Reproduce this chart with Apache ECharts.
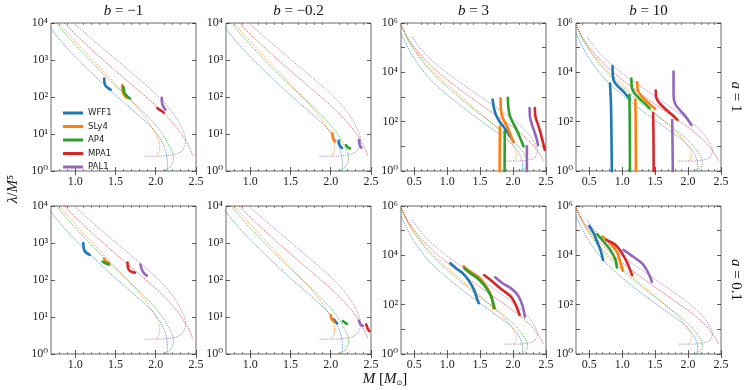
<!DOCTYPE html>
<html><head><meta charset="utf-8">
<script src="https://cdn.jsdelivr.net/npm/echarts@6/dist/echarts.min.js"></script>
<style>html,body{margin:0;padding:0;background:#fff}#c{width:747px;height:390px}</style>
</head><body><div id="c"></div><script>
// ---------------- DATA ----------------
const EOS_NAMES = ['WFF1', 'SLy4', 'AP4', 'MPA1', 'PAL1'];
const EOS_COLORS = ['#1f77b4', '#ff7f0e', '#2ca02c', '#d62728', '#9467bd'];

// GR reference curves (dotted): mass [M_sun] and log10(lambda/M^5)
const wff1Mass   = [0.30,0.40,0.50,0.60,0.70,0.80,0.90,1.00,1.20,1.40,1.60,1.80,1.95,2.05,2.11,2.14,2.145,2.13];
const wff1LogLam = [5.58,5.02,4.57,4.18,3.85,3.57,3.32,3.09,2.66,2.25,1.86,1.48,1.17,0.90,0.62,0.37,0.15,-0.05];
const sly4Mass   = [0.30,0.40,0.50,0.60,0.70,0.80,0.90,1.00,1.20,1.40,1.60,1.75,1.88,1.97,2.03,2.05,2.04,2.01];
const sly4LogLam = [5.93,5.37,4.95,4.60,4.28,4.00,3.75,3.51,3.04,2.58,2.12,1.76,1.42,1.12,0.87,0.67,0.52,0.40];
const ap4Mass    = [0.30,0.40,0.50,0.60,0.70,0.80,0.90,1.00,1.20,1.40,1.60,1.80,1.95,2.05,2.13,2.19,2.22,2.21,2.16,2.06,1.98];
const ap4LogLam  = [5.92,5.33,4.90,4.53,4.20,3.91,3.65,3.41,2.95,2.51,2.10,1.69,1.36,1.10,0.84,0.60,0.40,0.22,0.07,-0.03,-0.07];
const mpa1Mass   = [0.30,0.40,0.50,0.60,0.70,0.80,0.90,1.00,1.20,1.40,1.60,1.80,2.00,2.15,2.28,2.37,2.43,2.46];
const mpa1LogLam = [5.93,5.42,5.03,4.70,4.42,4.16,3.92,3.70,3.29,2.90,2.52,2.15,1.77,1.45,1.12,0.82,0.58,0.40];
const pal1Mass   = [0.47,0.55,0.65,0.75,0.85,1.00,1.20,1.40,1.60,1.80,2.00,2.15,2.27,2.34,2.37,2.36,2.32,2.22,2.05,1.85];
const pal1LogLam = [5.44,5.13,4.80,4.53,4.29,3.97,3.58,3.21,2.84,2.47,2.08,1.74,1.38,1.08,0.85,0.68,0.53,0.44,0.40,0.40];

// Thick (scalarized) branches per panel, ordered WFF1, SLy4, AP4, MPA1, PAL1: lists of [M, log10 lambda] polylines
const segA1Bm1 = [
  [[[1.36,2.5],[1.365,2.38],[1.38,2.3],[1.41,2.24],[1.44,2.2]]],
  [[[1.585,2.32],[1.59,2.15],[1.61,2.05],[1.64,1.98]]],
  [[[1.60,2.27],[1.61,2.12],[1.64,2.03],[1.68,1.96]]],
  [[[2.02,1.7],[2.06,1.64],[2.1,1.58]]],
  [[[2.075,1.98],[2.08,1.82],[2.1,1.72],[2.12,1.66]]]
];
const segA1Bm02 = [
  [[[2.10,0.82],[2.11,0.7],[2.14,0.62]]],
  [[[2.02,1.02],[2.03,0.88],[2.05,0.8]]],
  [[[2.19,0.7],[2.21,0.64],[2.24,0.61]]],
  [],
  [[[2.35,0.84],[2.36,0.7],[2.38,0.63]]]
];
const segA1B3 = [
  [[[1.69,2.9],[1.71,2.55],[1.74,2.28],[1.79,2.03],[1.86,1.78],[1.93,1.52],[1.98,1.3],[2.01,1.17]]],
  [[[1.81,2.95],[1.815,2.55],[1.83,2.25],[1.87,2.0],[1.92,1.75],[1.96,1.48],[1.99,1.28],[2.01,1.18]], [[1.80,1.8],[1.795,-0.5]]],
  [[[1.92,2.97],[1.93,2.55],[1.95,2.25],[1.99,2.0],[2.04,1.75],[2.09,1.45],[2.13,1.2],[2.16,1.0]], [[1.875,1.62],[1.87,-0.5]]],
  [[[2.33,2.55],[2.34,2.2],[2.37,1.95],[2.41,1.62],[2.44,1.3],[2.47,1.0],[2.48,0.85]]],
  [[[2.25,2.55],[2.26,2.15],[2.29,1.85],[2.33,1.55],[2.36,1.28],[2.38,1.05]], [[2.21,1.0],[2.21,-0.5]]]
];
const segA1B10 = [
  [[[0.855,4.25],[0.86,3.85],[0.88,3.62],[0.94,3.42],[1.02,3.22],[1.12,2.9]], [[0.815,3.55],[0.83,2.8],[0.84,1.0],[0.845,-0.5]]],
  [[[1.23,3.6],[1.235,3.3],[1.28,3.08],[1.36,2.86],[1.44,2.66],[1.5,2.52]], [[1.2,2.9],[1.205,2.0],[1.21,-0.5]]],
  [[[1.14,3.75],[1.15,3.35],[1.19,3.15],[1.26,2.95],[1.34,2.75],[1.42,2.54]], [[1.11,3.08],[1.115,2.0],[1.12,-0.5]]],
  [[[1.51,3.26],[1.52,2.95],[1.57,2.74],[1.66,2.5],[1.75,2.3],[1.84,2.07]], [[1.47,2.35],[1.475,1.5],[1.48,-0.5]]],
  [[[1.78,4.03],[1.78,3.3],[1.785,2.9],[1.82,2.65],[1.9,2.4],[1.98,2.15],[2.05,1.86]], [[1.76,2.07],[1.765,1.0],[1.77,-0.5]]]
];
const segA01Bm1 = [
  [[[1.10,3.0],[1.11,2.82],[1.13,2.75],[1.18,2.68]]],
  [[[1.36,2.58],[1.38,2.5],[1.42,2.46]]],
  [[[1.34,2.5],[1.37,2.46],[1.42,2.42]]],
  [[[1.65,2.47],[1.66,2.3],[1.70,2.22],[1.74,2.2]]],
  [[[1.81,2.42],[1.83,2.27],[1.86,2.17],[1.89,2.12]]]
];
const segA01Bm02 = [
  [[[2.04,0.93],[2.06,0.87],[2.08,0.83]]],
  [[[2.0,1.05],[2.01,0.95],[2.04,0.88]]],
  [[[2.15,0.89],[2.18,0.84],[2.2,0.82]]],
  [[[2.44,0.8],[2.46,0.68],[2.48,0.62]]],
  [[[2.35,0.9],[2.37,0.8],[2.4,0.76]]]
];
const segA01B3 = [
  [[[1.05,3.68],[1.14,3.47],[1.24,3.27],[1.34,2.93],[1.41,2.59],[1.46,2.19],[1.48,2.06]]],
  [[[1.25,3.56],[1.34,3.36],[1.49,3.09],[1.59,2.75],[1.67,2.34],[1.70,1.87]]],
  [[[1.26,3.48],[1.34,3.3],[1.46,3.07],[1.58,2.73],[1.67,2.32],[1.72,1.85]]],
  [[[1.56,3.2],[1.69,2.93],[1.84,2.59],[1.97,2.32],[2.04,1.99],[2.10,1.58]]],
  [[[1.73,3.11],[1.84,2.87],[1.97,2.66],[2.07,2.39],[2.14,1.99],[2.18,1.51]]]
];
const segA01B10 = [
  [[[0.50,5.19],[0.57,4.89],[0.62,4.55],[0.67,4.22],[0.71,3.81]]],
  [[[0.70,4.76],[0.82,4.49],[0.92,4.15],[0.97,3.74],[1.01,3.38]]],
  [[[0.62,4.86],[0.72,4.55],[0.82,4.22],[0.90,3.81],[0.92,3.51]]],
  [[[0.76,4.62],[0.90,4.42],[1.0,4.08],[1.08,3.68],[1.15,3.2]]],
  [[[1.02,4.22],[1.17,3.94],[1.30,3.68],[1.40,3.27],[1.45,2.93]]]
];

const colTitles = ['b = −1', 'b = −0.2', 'b = 3', 'b = 10'];
const rowTitles = ['a = 1', 'a = 0.1'];
const xMinByCol = [0.7, 0.7, 0.3, 0.3];
const xMax = 2.5;
const yMaxByCol = [4, 4, 6, 6];
const xMajorByCol = [[1.0,1.5,2.0,2.5],[1.0,1.5,2.0,2.5],[0.5,1.0,1.5,2.0,2.5],[0.5,1.0,1.5,2.0,2.5]];

// ---------------- BUILD ----------------
const grCurves = [[wff1Mass, wff1LogLam],[sly4Mass, sly4LogLam],[ap4Mass, ap4LogLam],[mpa1Mass, mpa1LogLam],[pal1Mass, pal1LogLam]];
const panelSegs = [segA1Bm1, segA1Bm02, segA1B3, segA1B10, segA01Bm1, segA01Bm02, segA01B3, segA01B10];

const lefts = [51, 226, 401, 576];
const tops = [23, 206];
const PW = 145, PH = 148;
const SERIF = "'Liberation Serif', 'DejaVu Serif', serif";
const SUP = ['⁰','¹','²','³','⁴','⁵','⁶'];
const axisCol = '#333';

const grid = [], xAxis = [], yAxis = [], series = [];
function minorList(col) {
  const out = [];
  const lo = Math.round(xMinByCol[col] * 10), hi = Math.round(xMax * 10);
  for (let k = lo + 1; k < hi; k++) { if (k % 5 !== 0) out.push(k / 10); }
  return out;
}
for (let p = 0; p < 8; p++) {
  const row = p < 4 ? 0 : 1, col = p % 4;
  grid.push({left: lefts[col], top: tops[row], width: PW, height: PH, show: true, borderColor: '#444', borderWidth: 0.8, backgroundColor: 'transparent'});
}
const axisTypes = ['main','opp','minB','minT'];
axisTypes.forEach((t) => {
  for (let p = 0; p < 8; p++) {
    const col = p % 4;
    const base = {type: 'value', gridIndex: p, min: xMinByCol[col], max: xMax, splitLine: {show: false}, axisLine: {show: false}};
    if (t === 'main' || t === 'opp') {
      base.position = t === 'main' ? 'bottom' : 'top';
      base.axisTick = {show: true, inside: true, length: 4, lineStyle: {color: axisCol, width: 0.8}, customValues: xMajorByCol[col]};
      base.axisLabel = t === 'main'
        ? {show: true, customValues: xMajorByCol[col], formatter: v => v.toFixed(1), fontFamily: SERIF, fontSize: 12, color: '#222', margin: 5}
        : {show: false};
    } else {
      base.position = t === 'minB' ? 'bottom' : 'top';
      base.axisTick = {show: true, inside: true, length: 2, lineStyle: {color: axisCol, width: 0.6}, customValues: minorList(col)};
      base.axisLabel = {show: false};
    }
    xAxis.push(base);
  }
});
['left','right'].forEach((side) => {
  for (let p = 0; p < 8; p++) {
    const col = p % 4;
    const ymax = yMaxByCol[col];
    yAxis.push({
      type: 'value', gridIndex: p, position: side, min: 0, max: ymax, interval: 1,
      splitLine: {show: false}, axisLine: {show: false},
      axisTick: {show: true, inside: true, length: 4, lineStyle: {color: axisCol, width: 0.8}},
      axisLabel: side === 'left' ? {
        show: true, margin: 3, fontFamily: SERIF, fontSize: 12, color: '#222',
        formatter: v => { const n = Math.round(v); if (ymax > 4 && n % 2) return ''; return '10' + SUP[n]; }
      } : {show: false}
    });
  }
});

for (let p = 0; p < 8; p++) {
  grCurves.forEach((c, k) => {
    series.push({
      type: 'line', name: EOS_NAMES[k], xAxisIndex: p, yAxisIndex: p,
      data: c[0].map((m, j) => [m, c[1][j]]),
      showSymbol: false, symbol: 'none', smooth: 0.3, clip: true, silent: true, z: 2,
      lineStyle: {color: EOS_COLORS[k], width: 0.7, type: [1.3, 1.0]}, itemStyle: {color: EOS_COLORS[k]}
    });
  });
  panelSegs[p].forEach((lines, k) => {
    lines.forEach((pts) => {
      series.push({
        type: 'line', name: EOS_NAMES[k], xAxisIndex: p, yAxisIndex: p,
        data: pts, showSymbol: false, symbol: 'none', smooth: 0.3, clip: true, silent: true, z: 3,
        lineStyle: {color: EOS_COLORS[k], width: 2.6, cap: 'round'}, itemStyle: {color: EOS_COLORS[k]}
      });
    });
  });
}

const graphic = [];
const richMath = {
  i: {fontFamily: SERIF, fontSize: 15, fontStyle: 'italic', fill: '#111'},
  r: {fontFamily: SERIF, fontSize: 15, fill: '#111'}
};
colTitles.forEach((t, col) => {
  const m = t.match(/^b(.*)$/);
  graphic.push({type: 'text', x: lefts[col] + PW / 2, y: 11, style: {
    text: '{i|b}{r|' + m[1] + '}', align: 'center', verticalAlign: 'middle', rich: richMath
  }});
});
rowTitles.forEach((t, row) => {
  const m = t.match(/^a(.*)$/);
  graphic.push({type: 'text', x: 736, y: tops[row] + PH / 2, rotation: -Math.PI / 2, style: {
    text: '{i|a}{r|' + m[1] + '}', align: 'center', verticalAlign: 'middle', rich: richMath
  }});
});
graphic.push({type: 'text', x: 13, y: 189, rotation: Math.PI / 2, style: {
  text: '{i|λ}{r|/}{i|M}{r|⁵}', align: 'center', verticalAlign: 'middle', rich: richMath
}});
graphic.push({type: 'text', x: 385, y: 379, style: {
  text: '{i|M}{r| [}{i|M}{s|⊙}{r|]}', align: 'center', verticalAlign: 'middle',
  rich: {
    i: {fontFamily: SERIF, fontSize: 15, fontStyle: 'italic', fill: '#111', lineHeight: 16},
    r: {fontFamily: SERIF, fontSize: 15, fill: '#111', lineHeight: 16},
    s: {fontFamily: 'DejaVu Sans', fontSize: 7, fill: '#111', lineHeight: 8, verticalAlign: 'bottom'}
  }
}});

const chart = echarts.init(document.getElementById('c'), null, {renderer: 'canvas'});
chart.setOption({
  animation: false,
  backgroundColor: '#fff',
  grid, xAxis, yAxis, series, graphic,
  legend: {
    data: EOS_NAMES.map((n, k) => ({name: n, icon: 'rect', itemStyle: {color: EOS_COLORS[k], borderWidth: 0},
      lineStyle: {color: EOS_COLORS[k], width: 3, type: 'solid'}})),
    orient: 'vertical', left: 58, top: 103, itemWidth: 20, itemHeight: 3, itemGap: 3.5,
    selectedMode: false,
    textStyle: {fontFamily: "'DejaVu Sans', sans-serif", fontSize: 8.5, color: '#222', lineHeight: 10}
  }
});
</script></body></html>
